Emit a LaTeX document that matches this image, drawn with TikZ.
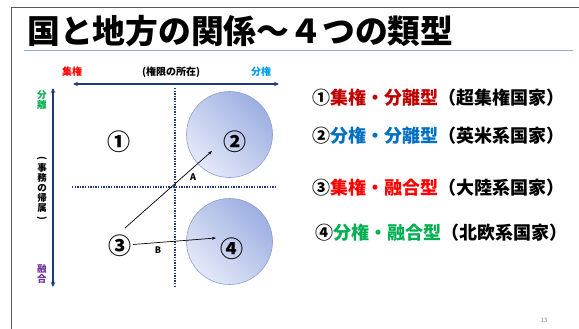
\documentclass[tikz,border=0pt]{standalone}
\usepackage{fontspec}
\setmainfont{Noto Sans CJK JP}
\usetikzlibrary{arrows.meta}
\definecolor{navy}{HTML}{1F3A7A}
\definecolor{frame}{HTML}{5A5A5A}
\definecolor{uline}{HTML}{8EAADB}
\definecolor{cred}{HTML}{FF0000}
\definecolor{dred}{HTML}{C00000}
\definecolor{cblue}{HTML}{0070C0}
\definecolor{lblue}{HTML}{00A0E9}
\definecolor{cgreen}{HTML}{00B050}
\definecolor{cpurple}{HTML}{7030A0}
\definecolor{circlight}{HTML}{E4E9F8}
\definecolor{circdark}{HTML}{9DAFE2}
\definecolor{circedge}{HTML}{8C9ED2}
\newcommand{\vparen}[1]{\raisebox{0pt}[6pt][0pt]{\rotatebox[origin=c]{-90}{#1}}}
\begin{document}
\begin{tikzpicture}[x=1pt,y=-1pt,
  axis/.style={navy,line width=1.6pt,arrows={Stealth[length=5pt,width=4.5pt]-Stealth[length=5pt,width=4.5pt]}},
  dotline/.style={navy,line width=1.8pt,dash pattern=on 1.4pt off 1.2pt},
  circ/.style={circle,minimum size=86pt,inner sep=0pt,draw=circedge,line width=0.6pt,
    bottom color=circlight,top color=circdark,shading angle=-45},
  num/.style={font=\bfseries\fontsize{23}{24}\selectfont,inner sep=0pt},
  small/.style={font=\bfseries\fontsize{10}{11}\selectfont,inner sep=0pt},
  vtext/.style={font=\bfseries\fontsize{9.5}{10}\selectfont,inner sep=0pt,align=center},
  item/.style={font=\bfseries\fontsize{18}{19}\selectfont,inner sep=0pt,anchor=west},
  conn/.style={black,line width=0.7pt,-{Stealth[length=4pt,width=3pt]}},
  lab/.style={font=\bfseries\fontsize{9}{10}\selectfont,inner sep=0pt}
]
\useasboundingbox (0,0) rectangle (579,329);
\fill[white] (0,0) rectangle (579,329);
% slide frame
\draw[frame,line width=1pt] (11,329) -- (11,8) -- (579,8);
% title
\node[anchor=base west,inner sep=0pt,font=\bfseries\fontsize{32.8}{34}\selectfont] (title) at (27,44) {国と地方の関係～４つの類型};
\draw[uline,line width=1.2pt] (24,50.5) -- (573,50.5);
% axes
\coordinate (hL) at (73,84);
\coordinate (hR) at (279,84);
\coordinate (vT) at (53,88);
\coordinate (vB) at (53,287);
\draw[axis] (hL) -- (hR);
\draw[axis] (vT) -- (vB);
\node[small,text=cred] (shuken) at (72,72) {集権};
\node[small] (kengen) at (171,72) {(権限の所在)};
\node[small,text=lblue] (bunken) at (261,72) {分権};
\node[vtext,text=cgreen] (bunri) at (42,100) {分\\離};
\node[vtext] (jimu) at (42,188) {\vparen{(}\\事\\務\\の\\帰\\属\\\vparen{)}};
\node[vtext,text=cpurple] (yugo) at (42,274) {融\\合};
% dotted cross
\coordinate (dT) at (175,88);
\coordinate (dB) at (175,286);
\coordinate (dL) at (72,187);
\coordinate (dR) at (275,187);
\draw[dotline] (dT) -- (dB);
\draw[dotline] (dL) -- (dR);
% circles
\node[circ] (c2) at (229.5,134.5) {};
\node[circ] (c4) at (229.5,241.5) {};
% numbers
\node[num] (n1) at (119,142) {①};
\node[num] (n2) at (235,142) {②};
\node[num] (n3) at (120,246) {③};
\node[num] (n4) at (232,249) {④};
% arrows
\coordinate (a0) at (125,228);
\coordinate (a1) at (212,151);
\coordinate (b0) at (133,244.5);
\coordinate (b1) at (216,238);
\draw[conn] (a0) -- (a1);
\draw[conn] (b0) -- (b1);
\node[lab] (la) at (193,177) {A};
\node[lab] (lb) at (158,250) {B};
% list
\node[item] (i1) at (312,98) {①\textcolor{dred}{集権・分離型}（超集権国家）};
\node[item] (i2) at (312,136) {②\textcolor{cblue}{分権・分離型}（英米系国家）};
\node[item] (i3) at (312,188) {③\textcolor{cred}{集権・融合型}（大陸系国家）};
\node[item] (i4) at (315,233) {④\textcolor{cgreen}{分権・融合型}（北欧系国家）};
% page number
\node[font=\fontsize{6}{7}\selectfont,text=gray,inner sep=0pt] (pg) at (544,320) {13};
\end{tikzpicture}
\end{document}
